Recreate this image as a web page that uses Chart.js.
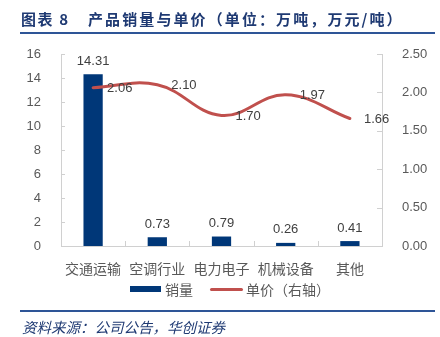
<!DOCTYPE html>
<html><head><meta charset="utf-8">
<script src="https://cdn.jsdelivr.net/npm/chart.js@4/dist/chart.umd.min.js"></script>
<style>
html,body{margin:0;padding:0;background:#fff;width:440px;height:337px;overflow:hidden;position:relative;font-family:"Liberation Sans","Noto Sans CJK SC",sans-serif;}
.title{position:absolute;top:9px;font-family:"Noto Sans CJK SC",sans-serif;font-weight:bold;font-size:15px;line-height:20px;color:#1F3A73;white-space:nowrap;letter-spacing:1.6px;}
#tline{position:absolute;left:20px;top:32px;width:415px;height:2px;background:#2E5597;}
#bline{position:absolute;left:20px;top:310px;width:415px;height:2px;background:#2E5597;}
#src{position:absolute;left:22px;top:316px;font-family:"Noto Sans CJK SC",sans-serif;font-size:14.5px;font-style:italic;color:#1F3A73;white-space:nowrap;}
#wrap{position:absolute;left:0;top:0;width:440px;height:337px;}
.lg{position:absolute;font-size:14px;color:#595959;font-family:"Noto Sans CJK SC",sans-serif;line-height:14px;}
</style></head>
<body>
<div id="wrap"><canvas id="c" width="440" height="337"></canvas></div>
<div class="title" style="left:21px;">图表 8</div>
<div class="title" style="left:88px;letter-spacing:2.1px;">产品销量与单价（单位：万吨，万元/吨）</div>
<div id="tline"></div>
<div id="bline"></div>
<div id="src">资料来源：公司公告，华创证券</div>
<div style="position:absolute;left:130px;top:286px;width:31px;height:6px;background:#003778;"></div>
<div class="lg" style="left:165px;top:282px;">销量</div>
<div style="position:absolute;left:210px;top:288px;width:33px;height:3px;background:#C0504D;border-radius:1.5px;"></div>
<div class="lg" style="left:246px;top:282px;">单价（右轴）</div>
<script>
const categories = ["交通运输","空调行业","电力电子","机械设备","其他"];
const volume = [14.31, 0.73, 0.79, 0.26, 0.41];
const price = [2.06, 2.10, 1.70, 1.97, 1.66];

const AX = '#D0D0D0';
const FONT = '"Liberation Sans","Noto Sans CJK SC",sans-serif';

const inwardTicks = {
  id:'inwardTicks',
  afterDatasetsDraw(chart){
    const ctx = chart.ctx, a = chart.chartArea;
    ctx.save(); ctx.strokeStyle = AX; ctx.lineWidth = 1;
    const y = chart.scales.y, y1 = chart.scales.y1, x = chart.scales.x;
    y.ticks.forEach((t,i)=>{const p=Math.round(y.getPixelForTick(i))+0.5; ctx.beginPath(); ctx.moveTo(a.left,p); ctx.lineTo(a.left+4,p); ctx.stroke();});
    y1.ticks.forEach((t,i)=>{const p=Math.round(y1.getPixelForTick(i))+0.5; ctx.beginPath(); ctx.moveTo(a.right,p); ctx.lineTo(a.right-5,p); ctx.stroke();});
    for(let i=1;i<categories.length;i++){
      const p = Math.round((x.getPixelForValue(i-1)+x.getPixelForValue(i))/2)+0.5;
      ctx.beginPath(); ctx.moveTo(p,a.bottom); ctx.lineTo(p,a.bottom-5); ctx.stroke();
    }
    ctx.restore();
  }
};

const valueLabels = {
  id:'valueLabels',
  afterDatasetsDraw(chart){
    const ctx = chart.ctx;
    ctx.save();
    ctx.font = '13px '+FONT; ctx.fillStyle = '#404040';
    const m0 = chart.getDatasetMeta(0);
    ctx.textAlign='center'; ctx.textBaseline='middle';
    m0.data.forEach((el,i)=>{ ctx.fillText(volume[i].toFixed(2), el.x, el.y-13); });
    const m1 = chart.getDatasetMeta(1);
    ctx.textAlign='left';
    m1.data.forEach((el,i)=>{ ctx.fillText(price[i].toFixed(2), el.x+14, el.y+1); });
    ctx.restore();
  }
};

new Chart(document.getElementById('c'), {
  data:{
    labels: categories,
    datasets:[
      {type:'bar', label:'销量', data: volume, backgroundColor:'#003778', yAxisID:'y', barPercentage:0.3, categoryPercentage:1, order:2},
      {type:'line', label:'单价（右轴）', data: price, borderColor:'#C0504D', borderWidth:3, tension:0.4, pointRadius:0, fill:false, yAxisID:'y1', order:1, borderCapStyle:'round'}
    ]
  },
  options:{
    responsive:false, animation:false,
    layout:{padding:{top:54,left:0,right:0,bottom:0}},
    plugins:{legend:{display:false}, tooltip:{enabled:false}},
    scales:{
      x:{grid:{display:false}, border:{display:true,color:AX},
         ticks:{color:'#595959', font:{size:14,family:'"Noto Sans CJK SC",sans-serif'}, padding:6, maxRotation:0},
         afterFit(s){s.height=91;}},
      y:{position:'left', min:0, max:16, grid:{display:false}, border:{display:true,color:AX},
         ticks:{stepSize:2, color:'#595959', font:{size:13,family:FONT}, padding:12},
         afterFit(s){s.width=61;}},
      y1:{position:'right', min:0, max:2.5, grid:{display:false}, border:{display:true,color:AX},
         ticks:{stepSize:0.5, color:'#595959', font:{size:13,family:FONT}, padding:12, callback:v=>v.toFixed(2)},
         afterFit(s){s.width=58;}}
    }
  },
  plugins:[inwardTicks, valueLabels]
});
</script>
</body></html>
